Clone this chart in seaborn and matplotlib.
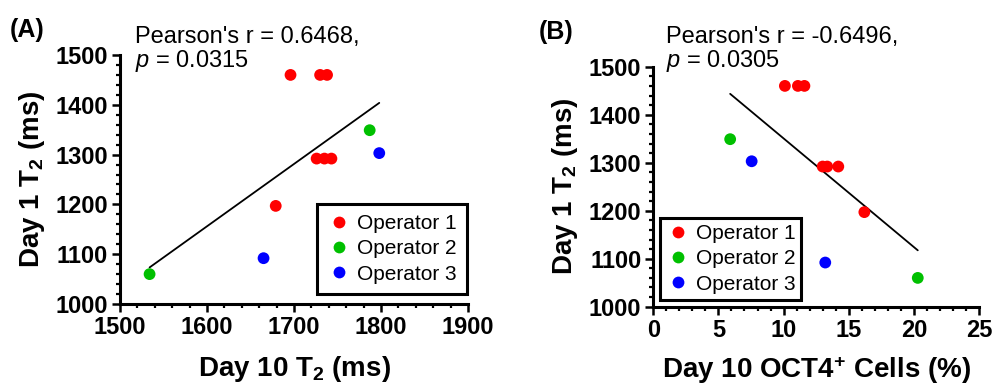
import matplotlib
matplotlib.use("Agg")
import matplotlib.pyplot as plt
import seaborn as sns
import pandas as pd
from matplotlib.ticker import MultipleLocator, AutoMinorLocator

# values
operators = ["Operator 1"] * 7 + ["Operator 2"] * 2 + ["Operator 3"] * 2
day10_t2 = [1696, 1730, 1738, 1726, 1735, 1743, 1679, 1534, 1787, 1665, 1798]
day1_t2 = [1460, 1460, 1460, 1292, 1292, 1292, 1197, 1060, 1349, 1092, 1303]
day10_oct4 = [10.1, 11.1, 11.6, 13.0, 13.35, 14.2, 16.2, 20.3, 5.9, 13.2, 7.55]

palette = {"Operator 1": "#FF0000", "Operator 2": "#00C000", "Operator 3": "#0000FF"}

df = pd.DataFrame({"operator": operators, "day10_t2": day10_t2,
                   "day1_t2": day1_t2, "oct4": day10_oct4})

sns.set_style("ticks")
plt.rcParams["font.family"] = ["Liberation Sans", "DejaVu Sans"]
plt.rcParams["mathtext.fontset"] = "custom"
plt.rcParams["mathtext.rm"] = "Liberation Sans"
plt.rcParams["mathtext.it"] = "Liberation Sans:italic"
plt.rcParams["mathtext.bf"] = "Liberation Sans:bold"
for key in ["text.color", "axes.labelcolor", "xtick.color", "ytick.color", "axes.edgecolor"]:
    plt.rcParams[key] = "black"

fig = plt.figure(figsize=(9.93, 3.87), dpi=100)
axA = fig.add_axes([120 / 993, 83 / 387, 348 / 993, 249 / 387])
axB = fig.add_axes([653.3 / 993, 80.3 / 387, 325.7 / 993, 240 / 387])


def style_axis(ax):
    for side in ["top", "right"]:
        ax.spines[side].set_visible(False)
    for side in ["left", "bottom"]:
        ax.spines[side].set_linewidth(2.2)
    ax.tick_params(which="major", length=5.5, width=1.8, labelsize=17, pad=3)
    ax.tick_params(which="minor", length=3, width=1.6)
    plt.setp(ax.get_xticklabels() + ax.get_yticklabels(), fontweight="bold")


def draw_panel(ax, xcol, legend_loc, anchor, bpad):
    sns.regplot(data=df, x=xcol, y="day1_t2", ax=ax, scatter=False, ci=None,
                color="black", line_kws={"linewidth": 1.3})
    sns.scatterplot(data=df, x=xcol, y="day1_t2", hue="operator", palette=palette,
                    ax=ax, s=72, linewidth=0, zorder=3)
    leg = ax.legend(loc=legend_loc, bbox_to_anchor=anchor, borderaxespad=0,
                    fontsize=15, frameon=True, fancybox=False, framealpha=1,
                    handletextpad=0.3, labelspacing=0.3, borderpad=bpad,
                    handlelength=1.1, markerscale=1.0)
    leg.get_frame().set_edgecolor("black")
    leg.get_frame().set_linewidth(2.2)


# panel A
draw_panel(axA, "day10_t2", "lower right", (0.996, 0.04), 0.5)
axA.set_xlim(1500, 1900)
axA.set_ylim(1000, 1500)
axA.xaxis.set_major_locator(MultipleLocator(100))
axA.xaxis.set_minor_locator(AutoMinorLocator(5))
axA.yaxis.set_major_locator(MultipleLocator(100))
axA.yaxis.set_minor_locator(AutoMinorLocator(5))
axA.set_xlabel(r"Day 10 T$_\mathbf{2}$ (ms)", fontsize=20, fontweight="bold")
axA.set_ylabel(r"Day 1 T$_\mathbf{2}$ (ms)", fontsize=20, fontweight="bold")
axA.xaxis.set_label_coords(0.5, -0.2)
axA.yaxis.set_label_coords(-0.21, 0.5)
style_axis(axA)
axA.text(0.043, 1.118, "Pearson's r = 0.6468,\n$p$ = 0.0315", transform=axA.transAxes,
         ha="left", va="top", fontsize=17, linespacing=1.0, clip_on=False)

# panel B
draw_panel(axB, "oct4", "lower left", (0.021, 0.028), 0.3)
axB.set_xlim(0, 25)
axB.set_ylim(1000, 1500)
axB.xaxis.set_major_locator(MultipleLocator(5))
axB.xaxis.set_minor_locator(AutoMinorLocator(5))
axB.yaxis.set_major_locator(MultipleLocator(100))
axB.yaxis.set_minor_locator(AutoMinorLocator(5))
axB.set_xlabel(r"Day 10 OCT4$^\mathbf{+}$ Cells (%)", fontsize=20, fontweight="bold")
axB.set_ylabel(r"Day 1 T$_\mathbf{2}$ (ms)", fontsize=20, fontweight="bold")
axB.xaxis.set_label_coords(0.5, -0.2)
axB.yaxis.set_label_coords(-0.225, 0.5)
style_axis(axB)
axB.text(0.039, 1.171, "Pearson's r = -0.6496,\n$p$ = 0.0305", transform=axB.transAxes,
         ha="left", va="top", fontsize=17, linespacing=1.0, clip_on=False)

fig.text(10 / 993, 1 - 18 / 387, "(A)", ha="left", va="top", fontsize=18, fontweight="bold")
fig.text(539 / 993, 1 - 20 / 387, "(B)", ha="left", va="top", fontsize=18, fontweight="bold")

fig.savefig("out.png", dpi=100)
plt.close(fig)
